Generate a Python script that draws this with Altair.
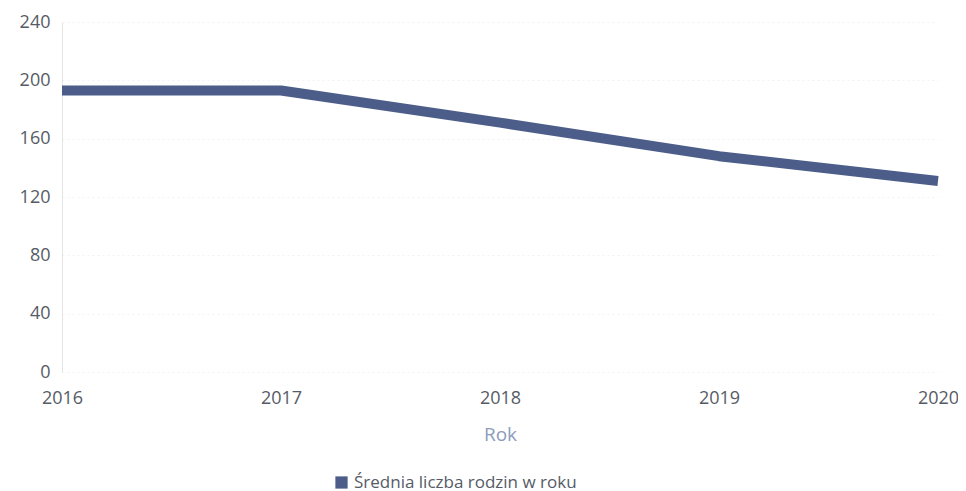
import altair as alt
import pandas as pd

years = ["2016", "2017", "2018", "2019", "2020"]
values = [193, 193, 171, 148, 131]
series_name = "Średnia liczba rodzin w roku"

df = pd.DataFrame({"Rok": years, "Wartość": values, "Seria": [series_name] * len(years)})

FONT = "Open Sans"
LABEL_COLOR = "#565b66"
LINE_COLOR = "#4b5d88"

chart = (
    alt.Chart(df)
    .mark_line(strokeWidth=10, strokeCap="butt", strokeJoin="round")
    .encode(
        x=alt.X(
            "Rok:O",
            scale=alt.Scale(padding=0),
            axis=alt.Axis(
                title="Rok",
                labelAngle=0,
                labelFontSize=18,
                labelColor=LABEL_COLOR,
                labelFont=FONT,
                labelPadding=17,
                titleFontSize=19,
                titleFont=FONT,
                titleFontWeight="normal",
                titleColor="#8d9cbd",
                titlePadding=18,
                ticks=False,
                domain=False,
                grid=False,
            ),
        ),
        y=alt.Y(
            "Wartość:Q",
            scale=alt.Scale(domain=[0, 240]),
            axis=alt.Axis(
                title=None,
                values=[0, 40, 80, 120, 160, 200, 240],
                labelFontSize=18,
                labelColor=LABEL_COLOR,
                labelFont=FONT,
                labelPadding=12,
                ticks=False,
                domain=True,
                domainColor="#e4e4e4",
                grid=True,
                gridColor="#f3f3f3",
                gridDash=[2, 3],
            ),
        ),
        color=alt.Color(
            "Seria:N",
            scale=alt.Scale(range=[LINE_COLOR]),
            legend=alt.Legend(
                title=None,
                orient="none",
                legendX=271,
                legendY=452,
                symbolType="square",
                symbolSize=150,
                symbolStrokeWidth=0,
                symbolFillColor=LINE_COLOR,
                labelFontSize=17,
                labelFont=FONT,
                labelColor=LABEL_COLOR,
                labelLimit=0,
            ),
        ),
    )
    .properties(
        width=876,
        height=350,
        autosize=alt.AutoSizeParams(type="none"),
        padding={"left": 54, "top": 14, "right": 20, "bottom": 120},
    )
    .configure_view(stroke=None)
    .configure_axisX(domain=True, domainColor="#e4e4e4")
)

chart.save("out.html", embed_options={"renderer": "svg", "actions": False})
